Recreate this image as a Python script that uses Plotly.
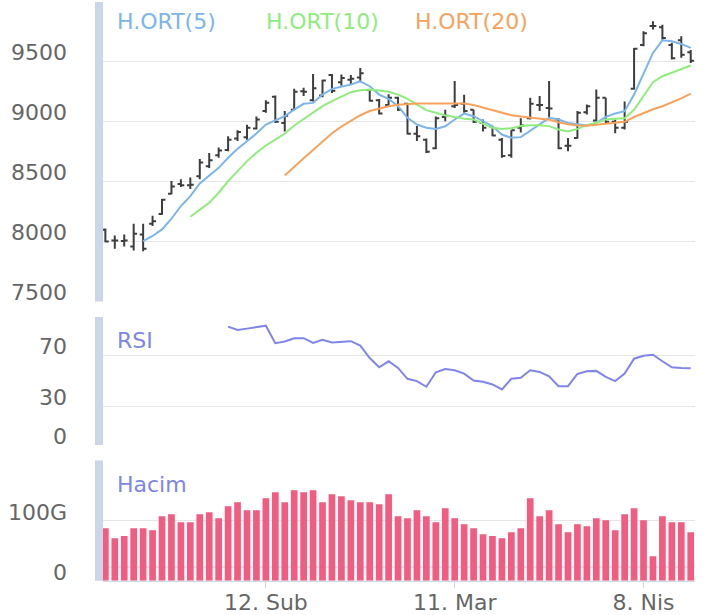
import plotly.graph_objects as go
import pandas as pd

# ---------------- data ----------------
dates = [d.strftime("%Y-%m-%d") for d in pd.bdate_range("2018-01-18", periods=63)]
tick_dates = ["2018-02-12", "2018-03-12", "2018-04-09"]
tick_text = ["12. Sub", "11. Mar", "8. Nis"]

opens = [8100, 8010, 8005, 7960, 8060, 8150, 8230, 8400, 8480, 8470,
         8545, 8630, 8720, 8765, 8860, 8870, 8945, 9090, 9210, 8990,
         9100, 9255, 9180, 9220, 9390, 9330, 9350, 9370, 9265, 9180,
         9140, 9200, 9150, 8900, 8850, 8780, 9040, 9130, 9150, 9100,
         8990, 8960, 8850, 8720, 8950, 9030, 9140, 9115, 9020, 8800,
         8865, 9080, 9010, 9200, 9000, 8950, 9275, 9640, 9800, 9790,
         9640, 9680, 9580]
highs = [8110, 8050, 8060, 8150, 8150, 8215, 8355, 8505, 8520, 8535,
         8690, 8740, 8785, 8880, 8930, 8975, 9045, 9180, 9220, 9090,
         9275, 9285, 9400, 9350, 9400, 9395, 9390, 9450, 9270, 9190,
         9230, 9210, 9160, 8965, 8860, 9045, 9100, 9340, 9225, 9100,
         9020, 8965, 8865, 8930, 9030, 9200, 9215, 9340, 9030, 8865,
         9090, 9145, 9270, 9200, 9020, 9170, 9615, 9755, 9840, 9810,
         9660, 9715, 9600]
lows = [7995, 7940, 7960, 7925, 7920, 8130, 8225, 8395, 8455, 8440,
        8520, 8615, 8700, 8755, 8840, 8850, 8935, 9075, 8990, 8920,
        9100, 9215, 9170, 9205, 9240, 9300, 9310, 9330, 9170, 9060,
        9130, 9090, 8895, 8840, 8740, 8770, 9005, 9115, 9075, 8990,
        8920, 8880, 8700, 8700, 8910, 9020, 9090, 9030, 8770, 8755,
        8860, 9060, 9005, 8990, 8905, 8935, 9270, 9630, 9770, 9685,
        9520, 9535, 9490]
closes = [8000, 8010, 8010, 8065, 7940, 8170, 8350, 8460, 8470, 8475,
          8660, 8680, 8760, 8850, 8915, 8950, 9020, 9160, 9000, 9050,
          9250, 9250, 9280, 9345, 9260, 9365, 9360, 9405, 9175, 9070,
          9200, 9100, 8900, 8880, 8750, 9030, 9050, 9140, 9090, 9000,
          8950, 8885, 8715, 8930, 8970, 9150, 9140, 9110, 8780, 8800,
          9075, 9130, 9200, 9000, 8950, 9000, 9610, 9740, 9800, 9700,
          9530, 9560, 9510]

# H.ORT(5) from index 4
ma5 = [8005, 8047, 8102, 8191, 8297, 8380, 8486, 8552, 8616, 8700,
       8775, 8838, 8902, 8977, 9011, 9047, 9102, 9150, 9158, 9227,
       9275, 9291, 9311, 9338, 9297, 9227, 9191, 9130, 9033, 8977,
       8950, 8941, 8963, 9019, 9069, 9047, 9005, 8963, 8894, 8866,
       8872, 8922, 8978, 9033, 9019, 8991, 8978, 8969, 8991, 9041,
       9069, 9089, 9228, 9408, 9575, 9680, 9672, 9650, 9617]
# H.ORT(10) from index 9
ma10 = [8208, 8263, 8325, 8408, 8505, 8588, 8672, 8741, 8802, 8852,
        8902, 8969, 9022, 9075, 9130, 9172, 9213, 9247, 9263, 9269,
        9261, 9250, 9227, 9191, 9144, 9097, 9075, 9052, 9041, 9025,
        9019, 8986, 8950, 8940, 8947, 8964, 8972, 8972, 8964, 8936,
        8919, 8941, 8972, 8990, 9020, 9025, 9030, 9100, 9210, 9330,
        9380, 9410, 9440, 9470]
# H.ORT(20) from index 19
ma20 = [8552, 8620, 8695, 8765, 8838, 8905, 8960, 9010, 9055, 9090,
        9110, 9130, 9143, 9150, 9152, 9152, 9153, 9155, 9155, 9152,
        9140, 9120, 9100, 9080, 9055, 9045, 9035, 9025, 9018, 8997,
        8980, 8970, 8968, 8975, 8985, 8995, 9000, 9040, 9075, 9105,
        9130, 9160, 9195, 9235]
# RSI from index 13
rsi = [92.5, 89.9, 90.9, 91.9, 93.2, 79.5, 80.8, 83.4, 83.4, 79.8,
       82.1, 80.1, 80.6, 81.1, 77.7, 67.9, 60.7, 65.4, 60.2, 51.7,
       49.9, 45.5, 56.8, 59.4, 58.4, 55.8, 50.4, 49.4, 47.3, 43.4,
       51.7, 52.5, 58.4, 57.1, 53.7, 46.0, 46.0, 55.5, 57.6, 57.9,
       53.2, 49.9, 55.8, 67.4, 69.7, 70.5, 65.4, 60.7, 60.2, 59.9]
# Hacim (G)
volume = [87.5, 70.9, 74.3, 87.5, 87.5, 84.2, 107.5, 110.8, 97.5, 97.5,
          110.8, 114.1, 104.2, 124.1, 130.7, 117.4, 117.4, 137.4, 147.3, 130.7,
          150.7, 147.3, 150.7, 130.7, 144.0, 140.7, 134.1, 130.7, 130.7, 127.4,
          144.0, 107.5, 104.2, 117.4, 107.5, 97.5, 120.7, 104.2, 94.2, 87.5,
          77.6, 74.3, 70.9, 80.9, 87.5, 137.4, 107.5, 117.4, 94.2, 80.9,
          94.2, 90.9, 104.2, 100.8, 84.2, 110.8, 120.7, 100.8, 41.0, 107.5,
          97.5, 97.5, 80.9]

price_ticks = [7500, 8000, 8500, 9000, 9500]
rsi_ticks = [0, 30, 70]
vol_ticks = [0, 100]
vol_tick_text = ["0", "100G"]

# ---------------- style ----------------
W, H = 706, 615
FONT = "DejaVu Sans"
FS = 22
C_BAR = "#3d3d40"
C5, C10, C20 = "#7cb5ec", "#90ed7d", "#f7a35c"
C_RSI = "#8085e9"
C_VOL = "#f15c80"
GRID = "#e6e6e6"
AXBLUE = "#ccd6eb"

x_left, x_right = 103 / W, 694.5 / W
def dom(top_px, bot_px):
    return [(H - bot_px) / H, (H - top_px) / H]
d_main = dom(2, 302.5)
d_rsi = dom(318, 446.5)
d_vol = dom(462, 582.7)

fig = go.Figure()
fig.add_trace(go.Ohlc(x=dates, open=opens, high=highs, low=lows, close=closes,
                      increasing=dict(line=dict(color=C_BAR, width=2)),
                      decreasing=dict(line=dict(color=C_BAR, width=2)),
                      tickwidth=0.36, xaxis="x", yaxis="y", showlegend=False))
fig.add_trace(go.Scatter(x=dates[4:], y=ma5, mode="lines", line=dict(color=C5, width=2),
                         xaxis="x", yaxis="y", showlegend=False))
fig.add_trace(go.Scatter(x=dates[9:], y=ma10, mode="lines", line=dict(color=C10, width=2),
                         xaxis="x", yaxis="y", showlegend=False))
fig.add_trace(go.Scatter(x=dates[19:], y=ma20, mode="lines", line=dict(color=C20, width=2),
                         xaxis="x", yaxis="y", showlegend=False))
fig.add_trace(go.Scatter(x=dates[13:], y=rsi, mode="lines", line=dict(color=C_RSI, width=2),
                         xaxis="x2", yaxis="y2", showlegend=False))
fig.add_trace(go.Bar(x=dates, y=volume, marker=dict(color=C_VOL, line=dict(width=0)),
                     xaxis="x3", yaxis="y3", showlegend=False))

xcommon = dict(type="category", range=[-0.25, 62.4], domain=[x_left, x_right],
               showgrid=False, zeroline=False, fixedrange=True)
fig.update_layout(
    width=W, height=H, margin=dict(l=0, r=0, t=0, b=0),
    paper_bgcolor="white", plot_bgcolor="white",
    font=dict(family=FONT, size=FS, color="#666666"),
    bargap=0.29,
    xaxis=dict(**xcommon, anchor="y", showticklabels=False, rangeslider=dict(visible=False)),
    xaxis2=dict(**xcommon, anchor="y2", matches="x", showticklabels=False),
    xaxis3=dict(**xcommon, anchor="y3", matches="x", showticklabels=True,
                tickmode="array", tickvals=tick_dates, ticktext=tick_text,
                ticks="outside", ticklen=6, tickcolor=AXBLUE, tickwidth=1,
                ticklabelstandoff=-4,
                showline=True, linecolor=AXBLUE, linewidth=1,
                tickfont=dict(family=FONT, size=FS, color="#666666")),
    yaxis=dict(domain=d_main, range=[7500, 10000], anchor="x",
               tickvals=price_ticks + [10000], showticklabels=False,
               gridcolor=GRID, gridwidth=1, zeroline=False, fixedrange=True),
    yaxis2=dict(domain=d_rsi, range=[0, 100], anchor="x2",
                tickvals=[0, 30, 70, 100], showticklabels=False,
                gridcolor=GRID, gridwidth=1, zeroline=False, fixedrange=True),
    yaxis3=dict(domain=d_vol, range=[0, 200], anchor="x3",
                tickvals=[0, 100, 200], showticklabels=False,
                gridcolor=GRID, gridwidth=1, zeroline=False, fixedrange=True),
)

shapes = []
for d in (d_main, d_rsi, d_vol):
    shapes.append(dict(type="rect", xref="paper", yref="paper",
                       x0=95 / W, x1=103 / W, y0=d[0], y1=d[1],
                       fillcolor=AXBLUE, line=dict(width=0), layer="above"))
shapes.append(dict(type="line", xref="paper", yref="y3", x0=x_left, x1=x_right,
                   y0=22.5, y1=22.5, line=dict(color="#dde3f0", width=2), layer="below"))
fig.update_layout(shapes=shapes)

ann = []
lab_x = 69 / W
for v in price_ticks:
    ann.append(dict(x=lab_x, xref="paper", y=v, yref="y", text=str(v), showarrow=False,
                    xanchor="right", yanchor="middle", yshift=9,
                    font=dict(family=FONT, size=FS, color="#666666")))
for v in rsi_ticks:
    ann.append(dict(x=lab_x, xref="paper", y=v, yref="y2", text=str(v), showarrow=False,
                    xanchor="right", yanchor="middle", yshift=9,
                    font=dict(family=FONT, size=FS, color="#666666")))
for v, t in zip(vol_ticks, vol_tick_text):
    ann.append(dict(x=lab_x, xref="paper", y=v, yref="y3", text=t, showarrow=False,
                    xanchor="right", yanchor="middle", yshift=8,
                    font=dict(family=FONT, size=FS, color="#666666")))

def title(text, xpx, ypx, color):
    return dict(x=xpx / W, y=(H - ypx) / H, xref="paper", yref="paper", text=text,
                showarrow=False, xanchor="left", yanchor="middle",
                font=dict(family=FONT, size=FS, color=color))
ann.append(title("H.ORT(5)", 115, 22, C5))
ann.append(title("H.ORT(10)", 264, 22, C10))
ann.append(title("H.ORT(20)", 413, 22, C20))
ann.append(title("RSI", 115, 342, C_RSI))
ann.append(title("Hacim", 115, 486, C_RSI))
fig.update_layout(annotations=ann)

fig.write_html("out.html", config={"displayModeBar": False},
               post_script="document.body.style.margin='0';document.body.style.overflow='hidden';")
